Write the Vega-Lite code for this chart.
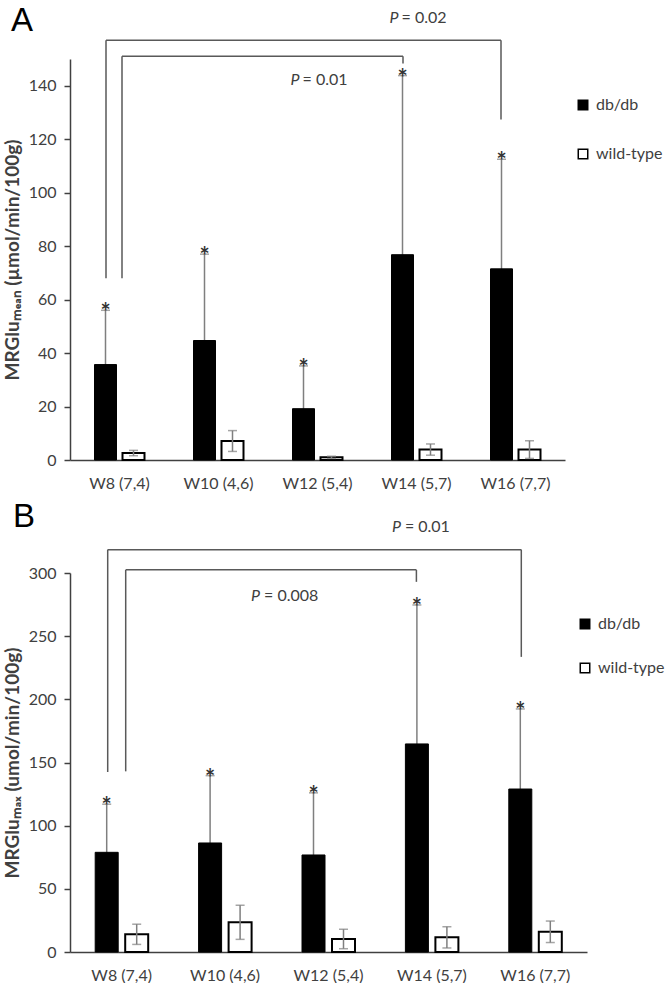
{
  "$schema": "https://vega.github.io/schema/vega-lite/v6.json",
  "background": "white",
  "padding": {"left": 3, "top": 4, "right": 0, "bottom": 0},
  "spacing": 9,
  "config": {
    "view": {"stroke": null},
    "font": "Lato",
    "axisX": {"ticks": false, "domainColor": "#404040", "domainWidth": 1.5, "labelFontSize": 16, "labelColor": "#404040", "labelPadding": 15, "labelAngle": 0, "grid": false},
    "axisY": {"tickSize": 6, "tickColor": "#404040", "tickWidth": 1.5, "domainColor": "#404040", "domainWidth": 1.5, "labelFontSize": 16, "labelColor": "#404040", "labelPadding": 8, "titleFontSize": 19, "titleFontWeight": "bold", "titleColor": "#404040", "titlePadding": 6, "grid": false},
    "title": {"font": "Liberation Sans", "fontWeight": "normal", "color": "#000000", "anchor": "start", "frame": "group"}
  },
  "resolve": {"scale": {"fill": "independent"}, "legend": {"fill": "independent"}},
  "datasets": {
    "a": [
      {"week": "W8 (7,4)", "group": "db/db", "mean": 35.7, "lo": 15.4, "hi": 56},
      {"week": "W8 (7,4)", "group": "wild-type", "mean": 2.6, "lo": 1.6, "hi": 3.6},
      {"week": "W10 (4,6)", "group": "db/db", "mean": 44.7, "lo": 12.4, "hi": 77},
      {"week": "W10 (4,6)", "group": "wild-type", "mean": 7.1, "lo": 3.2, "hi": 11},
      {"week": "W12 (5,4)", "group": "db/db", "mean": 19.2, "lo": 3.2, "hi": 35.2},
      {"week": "W12 (5,4)", "group": "wild-type", "mean": 1.0, "lo": 0.6, "hi": 1.4},
      {"week": "W14 (5,7)", "group": "db/db", "mean": 76.8, "lo": 9.8, "hi": 143.8},
      {"week": "W14 (5,7)", "group": "wild-type", "mean": 3.9, "lo": 1.8, "hi": 6},
      {"week": "W16 (7,7)", "group": "db/db", "mean": 71.5, "lo": 30.5, "hi": 112.5},
      {"week": "W16 (7,7)", "group": "wild-type", "mean": 3.9, "lo": 0.6, "hi": 7.2}
    ],
    "b": [
      {"week": "W8 (7,4)", "group": "db/db", "mean": 78.9, "lo": 40.8, "hi": 117},
      {"week": "W8 (7,4)", "group": "wild-type", "mean": 14, "lo": 6, "hi": 22},
      {"week": "W10 (4,6)", "group": "db/db", "mean": 86.3, "lo": 33, "hi": 139.6},
      {"week": "W10 (4,6)", "group": "wild-type", "mean": 23.5, "lo": 10, "hi": 37},
      {"week": "W12 (5,4)", "group": "db/db", "mean": 76.8, "lo": 27.6, "hi": 126},
      {"week": "W12 (5,4)", "group": "wild-type", "mean": 10.3, "lo": 2.6, "hi": 18},
      {"week": "W14 (5,7)", "group": "db/db", "mean": 164.7, "lo": 54.7, "hi": 274.7},
      {"week": "W14 (5,7)", "group": "wild-type", "mean": 11.6, "lo": 3.2, "hi": 20},
      {"week": "W16 (7,7)", "group": "db/db", "mean": 129, "lo": 65.6, "hi": 192.4},
      {"week": "W16 (7,7)", "group": "wild-type", "mean": 16, "lo": 7.5, "hi": 24.5}
    ],
    "brA": [
      {"name": "outer", "from": "W8 (7,4)", "to": "W16 (7,7)", "top": 157, "lb": 68, "rb": 127.4},
      {"name": "inner", "from": "W8 (7,4)", "to": "W14 (5,7)", "top": 151, "lb": 68, "rb": 148.3}
    ],
    "brB": [
      {"name": "outer", "from": "W8 (7,4)", "to": "W16 (7,7)", "top": 318.5, "lb": 142.5, "rb": 233.6},
      {"name": "inner", "from": "W8 (7,4)", "to": "W14 (5,7)", "top": 302.5, "lb": 143, "rb": 293}
    ]
  },
  "vconcat": [
    {
      "width": 495,
      "height": 401,
      "title": {"text": "A", "fontSize": 33, "dx": -59, "offset": -28},
      "layer": [
        {"data": {"name": "a"}, "transform": [{"filter": "datum.group === 'db/db'"}],
         "mark": {"type": "rule", "color": "#7f7f7f", "strokeWidth": 1.5, "xOffset": -14},
         "encoding": {
           "x": {"field": "week", "type": "nominal", "scale": {"domain": ["W8 (7,4)", "W10 (4,6)", "W12 (5,4)", "W14 (5,7)", "W16 (7,7)"], "paddingInner": 0, "paddingOuter": 0}, "title": null},
           "y": {"field": "lo", "type": "quantitative", "scale": {"domain": [0, 150], "nice": false}, "axis": {"values": [0, 20, 40, 60, 80, 100, 120, 140]}, "title": "MRGluₘₑₐₙ (µmol/min/100g)"},
           "y2": {"field": "hi"}}},
        {"data": {"name": "a"}, "transform": [{"filter": "datum.group === 'db/db'"}],
         "mark": {"type": "tick", "orient": "horizontal", "color": "#7f7f7f", "thickness": 1.5, "size": 9, "xOffset": -14},
         "encoding": {
           "x": {"field": "week", "type": "nominal", "scale": {"domain": ["W8 (7,4)", "W10 (4,6)", "W12 (5,4)", "W14 (5,7)", "W16 (7,7)"], "paddingInner": 0, "paddingOuter": 0}, "title": null},
           "y": {"field": "hi", "type": "quantitative", "scale": {"domain": [0, 150], "nice": false}, "axis": {"values": [0, 20, 40, 60, 80, 100, 120, 140]}, "title": "MRGluₘₑₐₙ (µmol/min/100g)"}}},
        {"data": {"name": "a"}, "transform": [{"filter": "datum.group === 'db/db'"}],
         "mark": {"type": "bar", "width": 22, "xOffset": -14, "stroke": "#000000", "strokeWidth": 1},
         "encoding": {
           "x": {"field": "week", "type": "nominal", "scale": {"domain": ["W8 (7,4)", "W10 (4,6)", "W12 (5,4)", "W14 (5,7)", "W16 (7,7)"], "paddingInner": 0, "paddingOuter": 0}, "title": null},
           "y": {"field": "mean", "type": "quantitative", "scale": {"domain": [0, 150], "nice": false}, "axis": {"values": [0, 20, 40, 60, 80, 100, 120, 140]}, "title": "MRGluₘₑₐₙ (µmol/min/100g)"},
           "fill": {"field": "group", "type": "nominal", "scale": {"domain": ["db/db", "wild-type"], "range": ["#000000", "#ffffff"]},
             "legend": {"title": null, "orient": "none", "legendX": 505, "legendY": 38, "symbolType": "square", "symbolSize": 90, "symbolStrokeColor": "#000000", "symbolStrokeWidth": 1.5, "labelFontSize": 16, "labelColor": "#404040", "rowPadding": 33, "labelOffset": 5, "padding": 0}}}},
        {"data": {"name": "a"}, "transform": [{"filter": "datum.group === 'wild-type'"}],
         "mark": {"type": "bar", "width": 22, "xOffset": 14, "stroke": "#000000", "strokeWidth": 2},
         "encoding": {
           "x": {"field": "week", "type": "nominal", "scale": {"domain": ["W8 (7,4)", "W10 (4,6)", "W12 (5,4)", "W14 (5,7)", "W16 (7,7)"], "paddingInner": 0, "paddingOuter": 0}, "title": null},
           "y": {"field": "mean", "type": "quantitative", "scale": {"domain": [0, 150], "nice": false}, "axis": {"values": [0, 20, 40, 60, 80, 100, 120, 140]}, "title": "MRGluₘₑₐₙ (µmol/min/100g)"},
           "fill": {"field": "group", "type": "nominal", "scale": {"domain": ["db/db", "wild-type"], "range": ["#000000", "#ffffff"]}}}},
        {"data": {"name": "a"}, "transform": [{"filter": "datum.group === 'wild-type'"}],
         "mark": {"type": "rule", "color": "#7f7f7f", "strokeWidth": 1.5, "xOffset": 14},
         "encoding": {
           "x": {"field": "week", "type": "nominal", "scale": {"domain": ["W8 (7,4)", "W10 (4,6)", "W12 (5,4)", "W14 (5,7)", "W16 (7,7)"], "paddingInner": 0, "paddingOuter": 0}, "title": null},
           "y": {"field": "lo", "type": "quantitative", "scale": {"domain": [0, 150], "nice": false}, "axis": {"values": [0, 20, 40, 60, 80, 100, 120, 140]}, "title": "MRGluₘₑₐₙ (µmol/min/100g)"},
           "y2": {"field": "hi"}}},
        {"data": {"name": "a"}, "transform": [{"filter": "datum.group === 'wild-type'"}],
         "mark": {"type": "tick", "orient": "horizontal", "color": "#7f7f7f", "thickness": 1.5, "size": 9, "xOffset": 14},
         "encoding": {
           "x": {"field": "week", "type": "nominal", "scale": {"domain": ["W8 (7,4)", "W10 (4,6)", "W12 (5,4)", "W14 (5,7)", "W16 (7,7)"], "paddingInner": 0, "paddingOuter": 0}, "title": null},
           "y": {"field": "hi", "type": "quantitative", "scale": {"domain": [0, 150], "nice": false}, "axis": {"values": [0, 20, 40, 60, 80, 100, 120, 140]}, "title": "MRGluₘₑₐₙ (µmol/min/100g)"}}},
        {"data": {"name": "a"}, "transform": [{"filter": "datum.group === 'wild-type'"}],
         "mark": {"type": "tick", "orient": "horizontal", "color": "#7f7f7f", "thickness": 1.5, "size": 9, "xOffset": 14},
         "encoding": {
           "x": {"field": "week", "type": "nominal", "scale": {"domain": ["W8 (7,4)", "W10 (4,6)", "W12 (5,4)", "W14 (5,7)", "W16 (7,7)"], "paddingInner": 0, "paddingOuter": 0}, "title": null},
           "y": {"field": "lo", "type": "quantitative", "scale": {"domain": [0, 150], "nice": false}, "axis": {"values": [0, 20, 40, 60, 80, 100, 120, 140]}, "title": "MRGluₘₑₐₙ (µmol/min/100g)"}}},
        {"data": {"name": "a"}, "transform": [{"filter": "datum.group === 'db/db'"}],
         "mark": {"type": "text", "text": "*", "fontSize": 24, "fontWeight": "bold", "color": "#333333", "baseline": "alphabetic", "dy": 11, "xOffset": -14},
         "encoding": {
           "x": {"field": "week", "type": "nominal", "scale": {"domain": ["W8 (7,4)", "W10 (4,6)", "W12 (5,4)", "W14 (5,7)", "W16 (7,7)"], "paddingInner": 0, "paddingOuter": 0}, "title": null},
           "y": {"field": "hi", "type": "quantitative", "scale": {"domain": [0, 150], "nice": false}, "axis": {"values": [0, 20, 40, 60, 80, 100, 120, 140]}, "title": "MRGluₘₑₐₙ (µmol/min/100g)"}}},
        {"data": {"name": "brA"}, "transform": [{"filter": "datum.name === 'outer'"}],
         "mark": {"type": "rule", "color": "#595959", "strokeWidth": 1.5, "xOffset": -13.5},
         "encoding": {
           "x": {"field": "from", "type": "nominal", "scale": {"domain": ["W8 (7,4)", "W10 (4,6)", "W12 (5,4)", "W14 (5,7)", "W16 (7,7)"], "paddingInner": 0, "paddingOuter": 0}, "title": null},
           "y": {"field": "lb", "type": "quantitative", "scale": {"domain": [0, 150], "nice": false}, "axis": {"values": [0, 20, 40, 60, 80, 100, 120, 140]}, "title": "MRGluₘₑₐₙ (µmol/min/100g)"},
           "y2": {"field": "top"}}},
        {"data": {"name": "brA"}, "transform": [{"filter": "datum.name === 'outer'"}],
         "mark": {"type": "rule", "color": "#595959", "strokeWidth": 1.5, "xOffset": -13.5, "x2Offset": -14.5},
         "encoding": {
           "x": {"field": "from", "type": "nominal", "scale": {"domain": ["W8 (7,4)", "W10 (4,6)", "W12 (5,4)", "W14 (5,7)", "W16 (7,7)"], "paddingInner": 0, "paddingOuter": 0}, "title": null},
           "x2": {"field": "to"},
           "y": {"field": "top", "type": "quantitative", "scale": {"domain": [0, 150], "nice": false}, "axis": {"values": [0, 20, 40, 60, 80, 100, 120, 140]}, "title": "MRGluₘₑₐₙ (µmol/min/100g)"}}},
        {"data": {"name": "brA"}, "transform": [{"filter": "datum.name === 'outer'"}],
         "mark": {"type": "rule", "color": "#595959", "strokeWidth": 1.5, "xOffset": -14.5},
         "encoding": {
           "x": {"field": "to", "type": "nominal", "scale": {"domain": ["W8 (7,4)", "W10 (4,6)", "W12 (5,4)", "W14 (5,7)", "W16 (7,7)"], "paddingInner": 0, "paddingOuter": 0}, "title": null},
           "y": {"field": "rb", "type": "quantitative", "scale": {"domain": [0, 150], "nice": false}, "axis": {"values": [0, 20, 40, 60, 80, 100, 120, 140]}, "title": "MRGluₘₑₐₙ (µmol/min/100g)"},
           "y2": {"field": "top"}}},
        {"data": {"name": "brA"}, "transform": [{"filter": "datum.name === 'inner'"}],
         "mark": {"type": "rule", "color": "#595959", "strokeWidth": 1.5, "xOffset": 2.5},
         "encoding": {
           "x": {"field": "from", "type": "nominal", "scale": {"domain": ["W8 (7,4)", "W10 (4,6)", "W12 (5,4)", "W14 (5,7)", "W16 (7,7)"], "paddingInner": 0, "paddingOuter": 0}, "title": null},
           "y": {"field": "lb", "type": "quantitative", "scale": {"domain": [0, 150], "nice": false}, "axis": {"values": [0, 20, 40, 60, 80, 100, 120, 140]}, "title": "MRGluₘₑₐₙ (µmol/min/100g)"},
           "y2": {"field": "top"}}},
        {"data": {"name": "brA"}, "transform": [{"filter": "datum.name === 'inner'"}],
         "mark": {"type": "rule", "color": "#595959", "strokeWidth": 1.5, "xOffset": 2.5, "x2Offset": -13.5},
         "encoding": {
           "x": {"field": "from", "type": "nominal", "scale": {"domain": ["W8 (7,4)", "W10 (4,6)", "W12 (5,4)", "W14 (5,7)", "W16 (7,7)"], "paddingInner": 0, "paddingOuter": 0}, "title": null},
           "x2": {"field": "to"},
           "y": {"field": "top", "type": "quantitative", "scale": {"domain": [0, 150], "nice": false}, "axis": {"values": [0, 20, 40, 60, 80, 100, 120, 140]}, "title": "MRGluₘₑₐₙ (µmol/min/100g)"}}},
        {"data": {"name": "brA"}, "transform": [{"filter": "datum.name === 'inner'"}],
         "mark": {"type": "rule", "color": "#595959", "strokeWidth": 1.5, "xOffset": -13.5},
         "encoding": {
           "x": {"field": "to", "type": "nominal", "scale": {"domain": ["W8 (7,4)", "W10 (4,6)", "W12 (5,4)", "W14 (5,7)", "W16 (7,7)"], "paddingInner": 0, "paddingOuter": 0}, "title": null},
           "y": {"field": "rb", "type": "quantitative", "scale": {"domain": [0, 150], "nice": false}, "axis": {"values": [0, 20, 40, 60, 80, 100, 120, 140]}, "title": "MRGluₘₑₐₙ (µmol/min/100g)"},
           "y2": {"field": "top"}}},
        {"data": {"values": [{"at": "W14 (5,7)", "y": 165.5, "t": "P"}, {"at": "W12 (5,4)", "y": 142, "t": "P"}]},
         "mark": {"type": "text", "fontStyle": "italic", "align": "right", "xOffset": -18, "fontSize": 16, "color": "#404040", "baseline": "middle"},
         "encoding": {
           "x": {"field": "at", "type": "nominal", "scale": {"domain": ["W8 (7,4)", "W10 (4,6)", "W12 (5,4)", "W14 (5,7)", "W16 (7,7)"], "paddingInner": 0, "paddingOuter": 0}, "title": null},
           "y": {"field": "y", "type": "quantitative", "scale": {"domain": [0, 150], "nice": false}, "axis": {"values": [0, 20, 40, 60, 80, 100, 120, 140]}, "title": "MRGluₘₑₐₙ (µmol/min/100g)"},
           "text": {"field": "t"}}},
        {"data": {"values": [{"at": "W14 (5,7)", "y": 165.5, "t": "= 0.02"}, {"at": "W12 (5,4)", "y": 142, "t": "= 0.01"}]},
         "mark": {"type": "text", "align": "left", "xOffset": -15, "fontSize": 16, "color": "#404040", "baseline": "middle"},
         "encoding": {
           "x": {"field": "at", "type": "nominal", "scale": {"domain": ["W8 (7,4)", "W10 (4,6)", "W12 (5,4)", "W14 (5,7)", "W16 (7,7)"], "paddingInner": 0, "paddingOuter": 0}, "title": null},
           "y": {"field": "y", "type": "quantitative", "scale": {"domain": [0, 150], "nice": false}, "axis": {"values": [0, 20, 40, 60, 80, 100, 120, 140]}, "title": "MRGluₘₑₐₙ (µmol/min/100g)"},
           "text": {"field": "t"}}}
      ]
    },
    {
      "width": 517,
      "height": 379,
      "title": {"text": "B", "fontSize": 33, "dx": -57, "offset": -15},
      "layer": [
        {"data": {"name": "b"}, "transform": [{"filter": "datum.group === 'db/db'"}],
         "mark": {"type": "rule", "color": "#7f7f7f", "strokeWidth": 1.5, "xOffset": -15},
         "encoding": {
           "x": {"field": "week", "type": "nominal", "scale": {"domain": ["W8 (7,4)", "W10 (4,6)", "W12 (5,4)", "W14 (5,7)", "W16 (7,7)"], "paddingInner": 0, "paddingOuter": 0}, "title": null},
           "y": {"field": "lo", "type": "quantitative", "scale": {"domain": [0, 300], "nice": false}, "axis": {"values": [0, 50, 100, 150, 200, 250, 300]}, "title": "MRGluₘₐₓ (umol/min/100g)"},
           "y2": {"field": "hi"}}},
        {"data": {"name": "b"}, "transform": [{"filter": "datum.group === 'db/db'"}],
         "mark": {"type": "tick", "orient": "horizontal", "color": "#7f7f7f", "thickness": 1.5, "size": 9, "xOffset": -15},
         "encoding": {
           "x": {"field": "week", "type": "nominal", "scale": {"domain": ["W8 (7,4)", "W10 (4,6)", "W12 (5,4)", "W14 (5,7)", "W16 (7,7)"], "paddingInner": 0, "paddingOuter": 0}, "title": null},
           "y": {"field": "hi", "type": "quantitative", "scale": {"domain": [0, 300], "nice": false}, "axis": {"values": [0, 50, 100, 150, 200, 250, 300]}, "title": "MRGluₘₐₓ (umol/min/100g)"}}},
        {"data": {"name": "b"}, "transform": [{"filter": "datum.group === 'db/db'"}],
         "mark": {"type": "bar", "width": 23, "xOffset": -15, "stroke": "#000000", "strokeWidth": 1},
         "encoding": {
           "x": {"field": "week", "type": "nominal", "scale": {"domain": ["W8 (7,4)", "W10 (4,6)", "W12 (5,4)", "W14 (5,7)", "W16 (7,7)"], "paddingInner": 0, "paddingOuter": 0}, "title": null},
           "y": {"field": "mean", "type": "quantitative", "scale": {"domain": [0, 300], "nice": false}, "axis": {"values": [0, 50, 100, 150, 200, 250, 300]}, "title": "MRGluₘₐₓ (umol/min/100g)"},
           "fill": {"field": "group", "type": "nominal", "scale": {"domain": ["db/db", "wild-type"], "range": ["#000000", "#ffffff"]},
             "legend": {"title": null, "orient": "none", "legendX": 507, "legendY": 43, "symbolType": "square", "symbolSize": 90, "symbolStrokeColor": "#000000", "symbolStrokeWidth": 1.5, "labelFontSize": 16, "labelColor": "#404040", "rowPadding": 28, "labelOffset": 5, "padding": 0}}}},
        {"data": {"name": "b"}, "transform": [{"filter": "datum.group === 'wild-type'"}],
         "mark": {"type": "bar", "width": 23, "xOffset": 15, "stroke": "#000000", "strokeWidth": 2},
         "encoding": {
           "x": {"field": "week", "type": "nominal", "scale": {"domain": ["W8 (7,4)", "W10 (4,6)", "W12 (5,4)", "W14 (5,7)", "W16 (7,7)"], "paddingInner": 0, "paddingOuter": 0}, "title": null},
           "y": {"field": "mean", "type": "quantitative", "scale": {"domain": [0, 300], "nice": false}, "axis": {"values": [0, 50, 100, 150, 200, 250, 300]}, "title": "MRGluₘₐₓ (umol/min/100g)"},
           "fill": {"field": "group", "type": "nominal", "scale": {"domain": ["db/db", "wild-type"], "range": ["#000000", "#ffffff"]}}}},
        {"data": {"name": "b"}, "transform": [{"filter": "datum.group === 'wild-type'"}],
         "mark": {"type": "rule", "color": "#7f7f7f", "strokeWidth": 1.5, "xOffset": 15},
         "encoding": {
           "x": {"field": "week", "type": "nominal", "scale": {"domain": ["W8 (7,4)", "W10 (4,6)", "W12 (5,4)", "W14 (5,7)", "W16 (7,7)"], "paddingInner": 0, "paddingOuter": 0}, "title": null},
           "y": {"field": "lo", "type": "quantitative", "scale": {"domain": [0, 300], "nice": false}, "axis": {"values": [0, 50, 100, 150, 200, 250, 300]}, "title": "MRGluₘₐₓ (umol/min/100g)"},
           "y2": {"field": "hi"}}},
        {"data": {"name": "b"}, "transform": [{"filter": "datum.group === 'wild-type'"}],
         "mark": {"type": "tick", "orient": "horizontal", "color": "#7f7f7f", "thickness": 1.5, "size": 9, "xOffset": 15},
         "encoding": {
           "x": {"field": "week", "type": "nominal", "scale": {"domain": ["W8 (7,4)", "W10 (4,6)", "W12 (5,4)", "W14 (5,7)", "W16 (7,7)"], "paddingInner": 0, "paddingOuter": 0}, "title": null},
           "y": {"field": "hi", "type": "quantitative", "scale": {"domain": [0, 300], "nice": false}, "axis": {"values": [0, 50, 100, 150, 200, 250, 300]}, "title": "MRGluₘₐₓ (umol/min/100g)"}}},
        {"data": {"name": "b"}, "transform": [{"filter": "datum.group === 'wild-type'"}],
         "mark": {"type": "tick", "orient": "horizontal", "color": "#7f7f7f", "thickness": 1.5, "size": 9, "xOffset": 15},
         "encoding": {
           "x": {"field": "week", "type": "nominal", "scale": {"domain": ["W8 (7,4)", "W10 (4,6)", "W12 (5,4)", "W14 (5,7)", "W16 (7,7)"], "paddingInner": 0, "paddingOuter": 0}, "title": null},
           "y": {"field": "lo", "type": "quantitative", "scale": {"domain": [0, 300], "nice": false}, "axis": {"values": [0, 50, 100, 150, 200, 250, 300]}, "title": "MRGluₘₐₓ (umol/min/100g)"}}},
        {"data": {"name": "b"}, "transform": [{"filter": "datum.group === 'db/db'"}],
         "mark": {"type": "text", "text": "*", "fontSize": 24, "fontWeight": "bold", "color": "#333333", "baseline": "alphabetic", "dy": 11, "xOffset": -15},
         "encoding": {
           "x": {"field": "week", "type": "nominal", "scale": {"domain": ["W8 (7,4)", "W10 (4,6)", "W12 (5,4)", "W14 (5,7)", "W16 (7,7)"], "paddingInner": 0, "paddingOuter": 0}, "title": null},
           "y": {"field": "hi", "type": "quantitative", "scale": {"domain": [0, 300], "nice": false}, "axis": {"values": [0, 50, 100, 150, 200, 250, 300]}, "title": "MRGluₘₐₓ (umol/min/100g)"}}},
        {"data": {"name": "brB"}, "transform": [{"filter": "datum.name === 'outer'"}],
         "mark": {"type": "rule", "color": "#595959", "strokeWidth": 1.5, "xOffset": -14},
         "encoding": {
           "x": {"field": "from", "type": "nominal", "scale": {"domain": ["W8 (7,4)", "W10 (4,6)", "W12 (5,4)", "W14 (5,7)", "W16 (7,7)"], "paddingInner": 0, "paddingOuter": 0}, "title": null},
           "y": {"field": "lb", "type": "quantitative", "scale": {"domain": [0, 300], "nice": false}, "axis": {"values": [0, 50, 100, 150, 200, 250, 300]}, "title": "MRGluₘₐₓ (umol/min/100g)"},
           "y2": {"field": "top"}}},
        {"data": {"name": "brB"}, "transform": [{"filter": "datum.name === 'outer'"}],
         "mark": {"type": "rule", "color": "#595959", "strokeWidth": 1.5, "xOffset": -14, "x2Offset": -14},
         "encoding": {
           "x": {"field": "from", "type": "nominal", "scale": {"domain": ["W8 (7,4)", "W10 (4,6)", "W12 (5,4)", "W14 (5,7)", "W16 (7,7)"], "paddingInner": 0, "paddingOuter": 0}, "title": null},
           "x2": {"field": "to"},
           "y": {"field": "top", "type": "quantitative", "scale": {"domain": [0, 300], "nice": false}, "axis": {"values": [0, 50, 100, 150, 200, 250, 300]}, "title": "MRGluₘₐₓ (umol/min/100g)"}}},
        {"data": {"name": "brB"}, "transform": [{"filter": "datum.name === 'outer'"}],
         "mark": {"type": "rule", "color": "#595959", "strokeWidth": 1.5, "xOffset": -14},
         "encoding": {
           "x": {"field": "to", "type": "nominal", "scale": {"domain": ["W8 (7,4)", "W10 (4,6)", "W12 (5,4)", "W14 (5,7)", "W16 (7,7)"], "paddingInner": 0, "paddingOuter": 0}, "title": null},
           "y": {"field": "rb", "type": "quantitative", "scale": {"domain": [0, 300], "nice": false}, "axis": {"values": [0, 50, 100, 150, 200, 250, 300]}, "title": "MRGluₘₐₓ (umol/min/100g)"},
           "y2": {"field": "top"}}},
        {"data": {"name": "brB"}, "transform": [{"filter": "datum.name === 'inner'"}],
         "mark": {"type": "rule", "color": "#595959", "strokeWidth": 1.5, "xOffset": 4},
         "encoding": {
           "x": {"field": "from", "type": "nominal", "scale": {"domain": ["W8 (7,4)", "W10 (4,6)", "W12 (5,4)", "W14 (5,7)", "W16 (7,7)"], "paddingInner": 0, "paddingOuter": 0}, "title": null},
           "y": {"field": "lb", "type": "quantitative", "scale": {"domain": [0, 300], "nice": false}, "axis": {"values": [0, 50, 100, 150, 200, 250, 300]}, "title": "MRGluₘₐₓ (umol/min/100g)"},
           "y2": {"field": "top"}}},
        {"data": {"name": "brB"}, "transform": [{"filter": "datum.name === 'inner'"}],
         "mark": {"type": "rule", "color": "#595959", "strokeWidth": 1.5, "xOffset": 4, "x2Offset": -15.5},
         "encoding": {
           "x": {"field": "from", "type": "nominal", "scale": {"domain": ["W8 (7,4)", "W10 (4,6)", "W12 (5,4)", "W14 (5,7)", "W16 (7,7)"], "paddingInner": 0, "paddingOuter": 0}, "title": null},
           "x2": {"field": "to"},
           "y": {"field": "top", "type": "quantitative", "scale": {"domain": [0, 300], "nice": false}, "axis": {"values": [0, 50, 100, 150, 200, 250, 300]}, "title": "MRGluₘₐₓ (umol/min/100g)"}}},
        {"data": {"name": "brB"}, "transform": [{"filter": "datum.name === 'inner'"}],
         "mark": {"type": "rule", "color": "#595959", "strokeWidth": 1.5, "xOffset": -15.5},
         "encoding": {
           "x": {"field": "to", "type": "nominal", "scale": {"domain": ["W8 (7,4)", "W10 (4,6)", "W12 (5,4)", "W14 (5,7)", "W16 (7,7)"], "paddingInner": 0, "paddingOuter": 0}, "title": null},
           "y": {"field": "rb", "type": "quantitative", "scale": {"domain": [0, 300], "nice": false}, "axis": {"values": [0, 50, 100, 150, 200, 250, 300]}, "title": "MRGluₘₐₓ (umol/min/100g)"},
           "y2": {"field": "top"}}},
        {"data": {"values": [{"at": "W14 (5,7)", "y": 336.5, "t": "P"}]},
         "mark": {"type": "text", "fontStyle": "italic", "align": "right", "xOffset": -31, "fontSize": 16, "color": "#404040", "baseline": "middle"},
         "encoding": {
           "x": {"field": "at", "type": "nominal", "scale": {"domain": ["W8 (7,4)", "W10 (4,6)", "W12 (5,4)", "W14 (5,7)", "W16 (7,7)"], "paddingInner": 0, "paddingOuter": 0}, "title": null},
           "y": {"field": "y", "type": "quantitative", "scale": {"domain": [0, 300], "nice": false}, "axis": {"values": [0, 50, 100, 150, 200, 250, 300]}, "title": "MRGluₘₐₓ (umol/min/100g)"},
           "text": {"field": "t"}}},
        {"data": {"values": [{"at": "W14 (5,7)", "y": 336.5, "t": "= 0.01"}]},
         "mark": {"type": "text", "align": "left", "xOffset": -27, "fontSize": 16, "color": "#404040", "baseline": "middle"},
         "encoding": {
           "x": {"field": "at", "type": "nominal", "scale": {"domain": ["W8 (7,4)", "W10 (4,6)", "W12 (5,4)", "W14 (5,7)", "W16 (7,7)"], "paddingInner": 0, "paddingOuter": 0}, "title": null},
           "y": {"field": "y", "type": "quantitative", "scale": {"domain": [0, 300], "nice": false}, "axis": {"values": [0, 50, 100, 150, 200, 250, 300]}, "title": "MRGluₘₐₓ (umol/min/100g)"},
           "text": {"field": "t"}}},
        {"data": {"values": [{"at": "W12 (5,4)", "y": 282, "t": "P"}]},
         "mark": {"type": "text", "fontStyle": "italic", "align": "right", "xOffset": -68.5, "fontSize": 16, "color": "#404040", "baseline": "middle"},
         "encoding": {
           "x": {"field": "at", "type": "nominal", "scale": {"domain": ["W8 (7,4)", "W10 (4,6)", "W12 (5,4)", "W14 (5,7)", "W16 (7,7)"], "paddingInner": 0, "paddingOuter": 0}, "title": null},
           "y": {"field": "y", "type": "quantitative", "scale": {"domain": [0, 300], "nice": false}, "axis": {"values": [0, 50, 100, 150, 200, 250, 300]}, "title": "MRGluₘₐₓ (umol/min/100g)"},
           "text": {"field": "t"}}},
        {"data": {"values": [{"at": "W12 (5,4)", "y": 282, "t": "= 0.008"}]},
         "mark": {"type": "text", "align": "left", "xOffset": -64.5, "fontSize": 16, "color": "#404040", "baseline": "middle"},
         "encoding": {
           "x": {"field": "at", "type": "nominal", "scale": {"domain": ["W8 (7,4)", "W10 (4,6)", "W12 (5,4)", "W14 (5,7)", "W16 (7,7)"], "paddingInner": 0, "paddingOuter": 0}, "title": null},
           "y": {"field": "y", "type": "quantitative", "scale": {"domain": [0, 300], "nice": false}, "axis": {"values": [0, 50, 100, 150, 200, 250, 300]}, "title": "MRGluₘₐₓ (umol/min/100g)"},
           "text": {"field": "t"}}}
      ]
    }
  ]
}
